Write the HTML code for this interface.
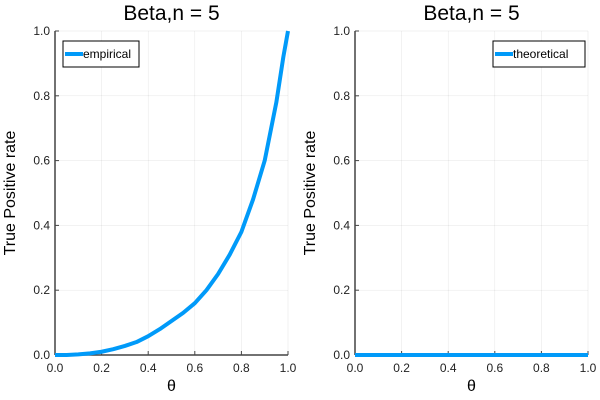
<!DOCTYPE html>
<html><head><meta charset="utf-8"><style>
body{margin:0;background:#fff}
svg{display:block;font-family:"Liberation Sans","DejaVu Sans",sans-serif}
</style></head><body>
<svg id="c" width="600" height="400"></svg>
<script>
const empTheta=[0,0.05,0.1,0.15,0.2,0.25,0.3,0.35,0.4,0.45,0.5,0.55,0.6,0.65,0.7,0.75,0.8,0.85,0.9,0.95,0.98,1.0];
const empTPR=[0,0,0.002,0.005,0.01,0.018,0.028,0.04,0.058,0.08,0.105,0.13,0.16,0.2,0.25,0.31,0.38,0.48,0.6,0.78,0.92,1.0];
const theoTheta=[0,0.25,0.5,0.75,1.0];
const theoTPR=[0,0,0,0,0];
const tickVals=[0,0.2,0.4,0.6,0.8,1.0];
const tickLabels=["0.0","0.2","0.4","0.6","0.8","1.0"];
const NS="http://www.w3.org/2000/svg";
const svg=document.getElementById('c');
function mk(t,a,p){const e=document.createElementNS(NS,t);for(const k in a)e.setAttribute(k,a[k]);(p||svg).appendChild(e);return e;}
function panel(x0,x1,y0,y1,xs,ys,label,legendX,legendW,nm){
  const g=mk('g',{});
  
  
  const sx=v=>x0+v*(x1-x0), sy=v=>y1-v*(y1-y0);
  tickVals.forEach((v,i)=>{
    mk('line',{x1:sx(v),x2:sx(v),y1:y0,y2:y1,stroke:'#000','stroke-opacity':0.1,'stroke-width':0.5},g);
    mk('line',{x1:x0,x2:x1,y1:sy(v),y2:sy(v),stroke:'#000','stroke-opacity':0.1,'stroke-width':0.5},g);
    mk('line',{x1:sx(v),x2:sx(v),y1:y1,y2:y1-4,stroke:'#444'},g);
    mk('line',{x1:x0,x2:x0+4,y1:sy(v),y2:sy(v),stroke:'#444'},g);
    const tx=mk('text',{x:sx(v),y:y1+17,'text-anchor':'middle','font-size':12,fill:'#222'},g);tx.textContent=tickLabels[i];
    
    
    const ty=mk('text',{x:x0-5,y:sy(v)+4,'text-anchor':'end','font-size':12,fill:'#222'},g);ty.textContent=tickLabels[i];
    
    
  });
  mk('line',{x1:x0,x2:x1,y1:y1,y2:y1,stroke:'#444','stroke-width':1.5},g);
  mk('line',{x1:x0,x2:x0,y1:y0,y2:y1,stroke:'#444','stroke-width':1.5},g);
  const p=mk('polyline',{points:xs.map((v,i)=>sx(v)+','+sy(ys[i])).join(' '),fill:'none',stroke:'#009af9','stroke-width':4,'stroke-linejoin':'round'},g);
  
  
  const t=mk('text',{x:(x0+x1)/2,y:20,'text-anchor':'middle','font-size':21,fill:'#000'},g);t.textContent='Beta,n = 5';
  
  
  const xl=mk('text',{x:(x0+x1)/2,y:391,'text-anchor':'middle','font-size':16,fill:'#000'},g);xl.textContent='θ';
  
  
  const yl=mk('text',{x:0,y:0,'text-anchor':'middle','font-size':16,fill:'#000',transform:`translate(${x0-40},${(y0+y1)/2}) rotate(-90)`},g);yl.textContent='True Positive rate';
  
  
  const lg=mk('g',{},g);
  
  
  mk('rect',{x:legendX,y:41,width:legendW,height:26,fill:'#fff',stroke:'#000','stroke-width':1},lg);
  mk('line',{x1:legendX+2,x2:legendX+20,y1:54,y2:54,stroke:'#009af9','stroke-width':4},lg);
  const lt=mk('text',{x:legendX+20,y:58,'font-size':12,fill:'#000'},lg);lt.textContent=label;
}
panel(55,288,31,355,empTheta,empTPR,'empirical',63,76,'left-plot');
panel(355,588,31,355,theoTheta,theoTPR,'theoretical',493,92,'right-plot');
</script>
</body></html>
